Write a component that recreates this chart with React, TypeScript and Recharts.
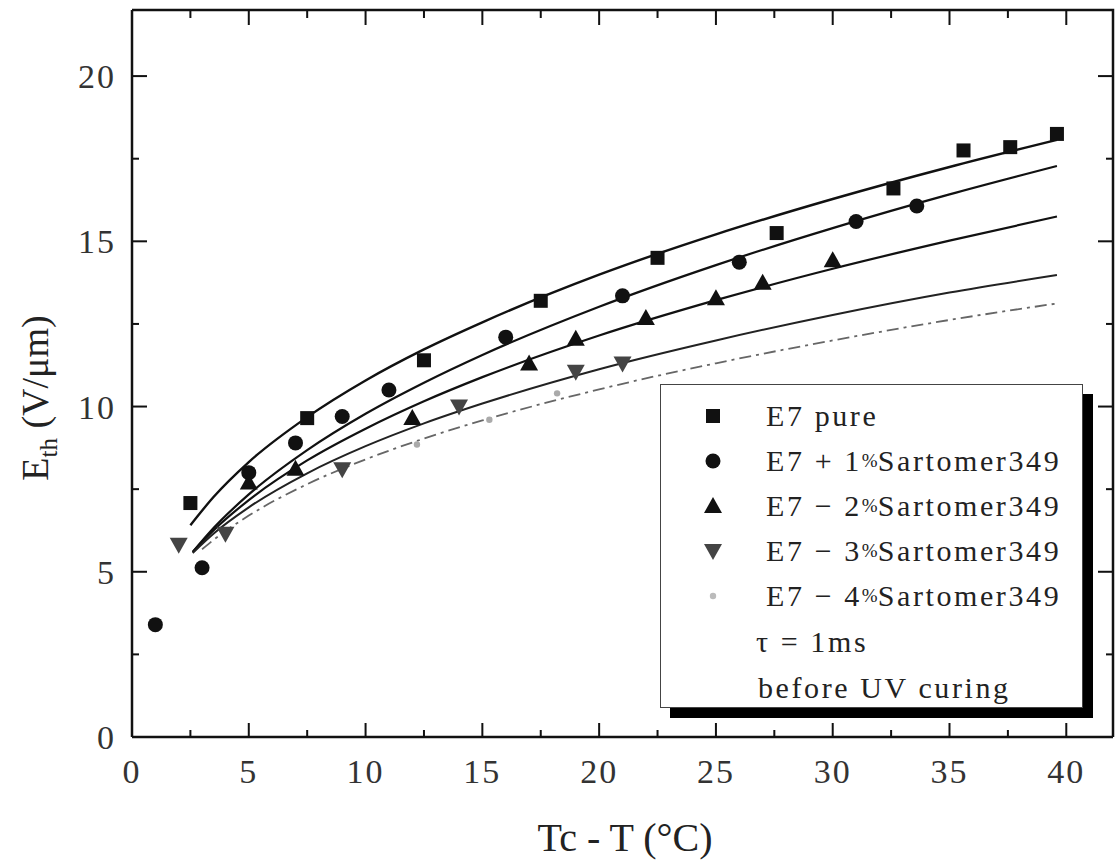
import React from "react";
import { ComposedChart, Line, Scatter, XAxis, YAxis } from "recharts";

// measured points (Tc - T in °C, Eth in V/µm)
const pure = [
  { x: 2.5, y: 7.08 }, { x: 7.5, y: 9.65 }, { x: 12.5, y: 11.4 }, { x: 17.5, y: 13.2 },
  { x: 22.5, y: 14.5 }, { x: 27.6, y: 15.25 }, { x: 32.6, y: 16.6 }, { x: 35.6, y: 17.75 },
  { x: 37.6, y: 17.85 }, { x: 39.6, y: 18.25 },
];
const sart1 = [
  { x: 1, y: 3.4 }, { x: 3, y: 5.12 }, { x: 5, y: 8.0 }, { x: 7, y: 8.9 }, { x: 9, y: 9.7 },
  { x: 11, y: 10.5 }, { x: 16, y: 12.1 }, { x: 21, y: 13.35 }, { x: 26, y: 14.37 },
  { x: 31, y: 15.6 }, { x: 33.6, y: 16.07 },
];
const sart2 = [
  { x: 5, y: 7.7 }, { x: 7, y: 8.12 }, { x: 12, y: 9.65 }, { x: 17, y: 11.3 }, { x: 19, y: 12.05 },
  { x: 22, y: 12.68 }, { x: 25, y: 13.28 }, { x: 27, y: 13.75 }, { x: 30, y: 14.43 },
];
const sart3 = [
  { x: 2, y: 5.82 }, { x: 4, y: 6.15 }, { x: 9, y: 8.1 }, { x: 14, y: 10.0 }, { x: 19, y: 11.05 },
  { x: 21, y: 11.3 },
];
const sart4 = [
  { x: 12.2, y: 8.85 }, { x: 15.3, y: 9.6 }, { x: 18.2, y: 10.4 },
];

// fitted curves
const fitPure = [
  { x: 2.5, y: 6.41 }, { x: 3.5, y: 7.27 }, { x: 5, y: 8.32 }, { x: 7.5, y: 9.68 }, { x: 10, y: 10.79 },
  { x: 12.5, y: 11.73 }, { x: 15, y: 12.55 }, { x: 20, y: 13.99 }, { x: 25, y: 15.21 },
  { x: 30, y: 16.28 }, { x: 35, y: 17.25 }, { x: 39.6, y: 18.07 },
];
const fit1 = [
  { x: 2.6, y: 5.6 }, { x: 3.5, y: 6.33 }, { x: 5, y: 7.34 }, { x: 7.5, y: 8.68 }, { x: 10, y: 9.78 },
  { x: 12.5, y: 10.72 }, { x: 15, y: 11.56 }, { x: 20, y: 13.02 }, { x: 25, y: 14.28 },
  { x: 30, y: 15.4 }, { x: 35, y: 16.42 }, { x: 39.6, y: 17.28 },
];
const fit2 = [
  { x: 2.6, y: 5.6 }, { x: 3.5, y: 6.26 }, { x: 5, y: 7.17 }, { x: 7.5, y: 8.37 }, { x: 10, y: 9.33 },
  { x: 12.5, y: 10.16 }, { x: 15, y: 10.89 }, { x: 20, y: 12.15 }, { x: 25, y: 13.22 },
  { x: 30, y: 14.17 }, { x: 35, y: 15.02 }, { x: 39.6, y: 15.75 },
];
const fit3 = [
  { x: 2.6, y: 5.57 }, { x: 3.5, y: 6.16 }, { x: 5, y: 6.95 }, { x: 7.5, y: 7.98 }, { x: 10, y: 8.8 },
  { x: 12.5, y: 9.49 }, { x: 15, y: 10.09 }, { x: 20, y: 11.13 }, { x: 25, y: 12.0 },
  { x: 30, y: 12.77 }, { x: 35, y: 13.45 }, { x: 39.6, y: 13.98 },
];
const fit4 = [
  { x: 3, y: 5.68 }, { x: 3.5, y: 5.97 }, { x: 5, y: 6.7 }, { x: 7.5, y: 7.65 }, { x: 10, y: 8.4 },
  { x: 12.5, y: 9.03 }, { x: 15, y: 9.58 }, { x: 20, y: 10.52 }, { x: 25, y: 11.31 },
  { x: 30, y: 12.0 }, { x: 35, y: 12.62 }, { x: 39.6, y: 13.12 },
];

const xTicks = [0, 5, 10, 15, 20, 25, 30, 35, 40];
const xMinor = [2.5, 7.5, 12.5, 17.5, 22.5, 27.5, 32.5, 37.5];
const yTicks = [0, 5, 10, 15, 20];
const yMinor = [2.5, 7.5, 12.5, 17.5];

const serif = "'Liberation Serif', 'DejaVu Serif', serif";
const ink = "#111";
const xDom: [number, number] = [0, 42];
const yDom: [number, number] = [0, 22];
const PLOT_TOP = 10;
const PLOT_RIGHT = 1113;

// top and right edges of the frame
const frameEdge = [
  { x: xDom[0], y: yDom[1] },
  { x: xDom[1], y: yDom[1] },
  { x: xDom[1], y: yDom[0] },
];

const Square = ({ cx, cy, fill }: any) => <rect x={cx - 7} y={cy - 7} width={14} height={14} fill={fill} />;
const Dot = ({ cx, cy, fill }: any) => <circle cx={cx} cy={cy} r={7.5} fill={fill} />;
const Tri = ({ cx, cy, fill }: any) => (
  <polygon points={`${cx},${cy - 9} ${cx - 9},${cy + 7} ${cx + 9},${cy + 7}`} fill={fill} />
);
const InvTri = ({ cx, cy, fill }: any) => (
  <polygon points={`${cx - 9},${cy - 7} ${cx + 9},${cy - 7} ${cx},${cy + 9}`} fill={fill} />
);
const Speck = ({ cx, cy, fill }: any) => <circle cx={cx} cy={cy} r={3.2} fill={fill} />;

const rows = [
  { label: "E7 pure", Shape: Square, fill: ink },
  { label: "E7 + 1%Sartomer349", Shape: Dot, fill: ink },
  { label: "E7 − 2%Sartomer349", Shape: Tri, fill: ink },
  { label: "E7 − 3%Sartomer349", Shape: InvTri, fill: "#444" },
  { label: "E7 − 4%Sartomer349", Shape: Speck, fill: "#bbb" },
];

// the scan prints "%" small and raised
function withSmallPercent(label: string) {
  const parts = label.split("%");
  if (parts.length < 2) return label;
  return (
    <>
      {parts[0]}
      <span style={{ fontSize: 19, verticalAlign: 4, letterSpacing: 0 }}>%</span>
      {parts[1]}
    </>
  );
}

function LegendBox() {
  return (
    <div
      style={{
        width: 423,
        height: 324,
        border: "1px solid #444",
        background: "#fff",
        boxShadow: "10px 10px 0 #000",
        fontFamily: serif,
        fontSize: 30,
        letterSpacing: 2.6,
        color: "#222",
        boxSizing: "border-box",
        paddingTop: 8,
        whiteSpace: "nowrap",
      }}
    >
      {rows.map(({ label, Shape, fill }) => (
        <div key={label} style={{ display: "flex", alignItems: "center", height: 45 }}>
          <svg width={105} height={30}>
            <Shape cx={52} cy={15} fill={fill} />
          </svg>
          <span>{withSmallPercent(label)}</span>
        </div>
      ))}
      <div style={{ height: 48, lineHeight: "48px", paddingLeft: 95 }}>τ = 1ms</div>
      <div style={{ height: 44, lineHeight: "44px", paddingLeft: 97 }}>before UV curing</div>
    </div>
  );
}

// inward ticks on bottom and top edges, labels below
function XTick({ x, y, payload }: any) {
  const major = payload.value % 5 === 0;
  const len = major ? 14 : 7;
  return (
    <g>
      <rect x={x - 1} y={y - len} width={2} height={len} fill={ink} />
      <rect x={x - 1} y={PLOT_TOP} width={2} height={len + 1} fill={ink} />
      {major && (
        <text x={x} y={y + 46} textAnchor="middle" fontFamily={serif} fontSize={34} fill="#333" letterSpacing={2}>
          {payload.value}
        </text>
      )}
    </g>
  );
}

// inward ticks on left and right edges, labels to the left
function YTick({ x, y, payload }: any) {
  const major = payload.value % 5 === 0;
  const len = major ? 15 : 7;
  return (
    <g>
      <rect x={x} y={y - 1} width={len} height={2} fill={ink} />
      <rect x={PLOT_RIGHT - len} y={y - 1} width={len} height={2} fill={ink} />
      {major && (
        <text x={x - 16} y={y + 12} textAnchor="end" fontFamily={serif} fontSize={34} fill="#333" letterSpacing={2}>
          {payload.value}
        </text>
      )}
    </g>
  );
}

export default function App() {
  return (
    <div style={{ position: "absolute", left: 0, top: 0, width: 1115, height: 863, background: "#fff" }}>
      <ComposedChart width={1115} height={863} margin={{ top: PLOT_TOP, right: 1115 - PLOT_RIGHT, bottom: 0, left: 0 }}>
        <XAxis
          dataKey="x"
          type="number"
          domain={xDom}
          ticks={[...xTicks, ...xMinor].sort((a, b) => a - b)}
          interval={0}
          tickSize={0}
          tickMargin={0}
          tick={<XTick />}
          axisLine={{ stroke: ink, strokeWidth: 2.5 }}
          height={126}
        />
        <YAxis
          type="number"
          domain={yDom}
          ticks={[...yTicks, ...yMinor].sort((a, b) => a - b)}
          interval={0}
          tickSize={0}
          tickMargin={0}
          tick={<YTick />}
          axisLine={{ stroke: ink, strokeWidth: 2.5 }}
          width={132}
        />

        <Line data={frameEdge} dataKey="y" type="linear" stroke={ink} strokeWidth={2.5} dot={false} isAnimationActive={false} />

        <Line data={fitPure} dataKey="y" type="monotone" stroke={ink} strokeWidth={2.4} dot={false} isAnimationActive={false} />
        <Line data={fit1} dataKey="y" type="monotone" stroke={ink} strokeWidth={2.2} dot={false} isAnimationActive={false} />
        <Line data={fit2} dataKey="y" type="monotone" stroke={ink} strokeWidth={2.2} dot={false} isAnimationActive={false} />
        <Line data={fit3} dataKey="y" type="monotone" stroke="#222" strokeWidth={2} dot={false} isAnimationActive={false} />
        <Line data={fit4} dataKey="y" type="monotone" stroke="#666" strokeWidth={1.8} strokeDasharray="12 5 3 5" dot={false} isAnimationActive={false} />

        <Scatter data={pure} dataKey="y" fill={ink} shape={Square} isAnimationActive={false} />
        <Scatter data={sart1} dataKey="y" fill={ink} shape={Dot} isAnimationActive={false} />
        <Scatter data={sart2} dataKey="y" fill={ink} shape={Tri} isAnimationActive={false} />
        <Scatter data={sart3} dataKey="y" fill="#444" shape={InvTri} isAnimationActive={false} />
        <Scatter data={sart4} dataKey="y" fill="#aaa" shape={Speck} isAnimationActive={false} />
      </ComposedChart>

      {/* axis titles */}
      <svg width={1115} height={863} style={{ position: "absolute", left: 0, top: 0, pointerEvents: "none" }}>
        <text x={625} y={851} textAnchor="middle" fontFamily={serif} fontSize={40} fill="#222">
          Tc - T (°C)
        </text>
        <text x={48} y={398} transform="rotate(-90 48 398)" textAnchor="middle" fontFamily={serif} fontSize={38} fill="#222">
          E<tspan fontSize={25} dy={9}>th</tspan>
          <tspan dy={-9}> (V/μm)</tspan>
        </text>
      </svg>

      <div style={{ position: "absolute", left: 660, top: 384 }}>
        <LegendBox />
      </div>
    </div>
  );
}
